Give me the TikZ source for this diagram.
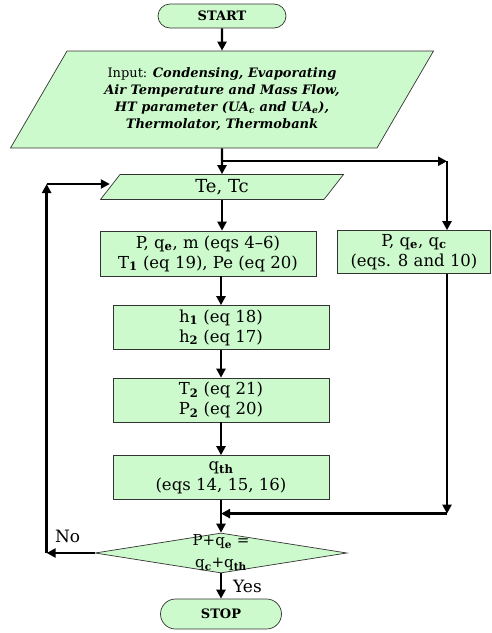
\documentclass[tikz,border=0pt]{standalone}
\usepackage{fontspec}
\setmainfont{DejaVu Serif}
\usepackage{tikz}
\usetikzlibrary{shapes.geometric,shapes.misc}
\usetikzlibrary{arrows.meta}
\usetikzlibrary{calc}
\definecolor{boxgreen}{RGB}{204,250,204}

\begin{document}
\begin{tikzpicture}[>={Triangle[length=9pt,width=9pt]},x=1pt,y=1pt,line width=2.4pt]
 \tikzstyle{term node}=[rounded rectangle,draw=black!80,fill=boxgreen,line width=0.7pt,minimum width=130pt,minimum height=24pt,inner sep=1pt,font=\bfseries\fontsize{13}{15}\selectfont]
 \tikzstyle{io node}=[trapezium,trapezium left angle=49,trapezium right angle=131,trapezium stretches body,draw=black!80,fill=boxgreen,line width=0.7pt,inner sep=1pt,align=center]
 \tikzstyle{proc node}=[rectangle,draw=black!80,fill=boxgreen,line width=0.7pt,minimum width=216pt,minimum height=44pt,inner sep=1pt,align=center,font=\fontsize{16.5}{20}\selectfont]
 \tikzstyle{check node}=[diamond,draw=black!80,fill=boxgreen,line width=0.7pt,minimum width=252pt,minimum height=40pt,inner sep=0pt]
 \tikzset{
 	side node/.style={proc node,minimum width=153pt,minimum height=43pt},
 	answer/.style={font=\fontsize{17}{19}\selectfont,inner sep=1pt}
 }

 \useasboundingbox (0,0) rectangle (491,-633);

       \node[term node] (start) at (222,-16) {START};
       \node[io node,minimum width=423pt,minimum height=97pt,font=\fontsize{13}{17}\selectfont] (in) [below of=start,node distance=83.5pt]
            {Input: \textbf{\textit{Condensing, Evaporating}}\\
             \textbf{\textit{Air Temperature and Mass Flow,}}\\
             \textbf{\textit{HT parameter (UA\textsubscript{c} and UA\textsubscript{e}),}}\\
             \textbf{\textit{Thermolator, Thermobank}}};
       \node[io node,trapezium left angle=42,trapezium right angle=138,minimum width=243pt,minimum height=25pt,font=\fontsize{18}{20}\selectfont] (tetc) [below of=in,node distance=87.5pt] {Te, Tc};
       \node[proc node,minimum height=45pt] (p1) [below of=tetc,node distance=66.5pt,xshift=-14pt]
            {P, q\textsubscript{\textbf{e}}, m (eqs 4--6)\\ T\textsubscript{\textbf{1}} (eq 19), Pe (eq 20)};
       \node[side node] (qbox) [right of=p1,node distance=206pt,yshift=1.5pt]
            {P, q\textsubscript{\textbf{e}}, q\textsubscript{\textbf{c}}\\ (eqs. 8 and 10)};
       \node[proc node] (p2) [below of=p1,node distance=74pt,xshift=13pt]
            {h\textsubscript{\textbf{1}} (eq 18)\\ h\textsubscript{\textbf{2}} (eq 17)};
       \node[proc node] (p3) [below of=p2,node distance=72.5pt]
            {T\textsubscript{\textbf{2}} (eq 21)\\ P\textsubscript{\textbf{2}} (eq 20)};
       \node[proc node] (p4) [below of=p3,node distance=77.5pt]
            {q\textsubscript{\textbf{th}}\\ (eqs 14, 15, 16)};
       \node[check node,label={[answer,align=center,font=\fontsize{15}{22}\selectfont]center:P+q\textsubscript{\textbf{e}} =\\ q\textsubscript{\textbf{c}}+q\textsubscript{\textbf{th}}}] (chk) [below of=p4,node distance=75.5pt] {};
       \node[term node,minimum width=123pt,minimum height=30pt] (stop) [below of=chk,node distance=61pt] {STOP};

       % turning points of the connectors
       \coordinate (split) at ($(in.south)!0.5!(tetc.north)$);
       \coordinate (rturn) at ($(split)+(225,0)$);
       \coordinate (merge) at ($(p4.south)!0.42!(chk.north)$);
       \coordinate (rdown) at (rturn |- merge);
       \coordinate (nturn) at ($(chk.west)+(-48,0)$);
       \coordinate (nup) at ($(nturn |- tetc)+(0,3)$);

     \path[->]  (start) edge (in);
     \path[->]  (in) edge (tetc);
     \draw[->]  (split) -- (rturn);
     \draw[->]  (rturn) -- (rturn |- qbox.north);
     \draw[->]  (rturn |- qbox.south) -- (rdown);
     \draw[->]  (rdown) -- (merge);

     \draw[->]  (tetc.south) -- (tetc.south |- p1.north);
     \draw[->]  (p2.north |- p1.south) -- (p2.north);
     \path[->]  (p2) edge (p3);
     \path[->]  (p3) edge (p4);
     \path[->]  (p4) edge (chk);
     \path[->]  (chk) edge node[answer,right=10pt] {Yes} (stop);

     \draw[->]  (chk.west) -- node[answer,above=8pt,xshift=-3pt] {No} (nturn);
     \draw[->]  (nturn) -- (nup);
     \draw[->]  (nup) -- (nup -| tetc.west);
 \end{tikzpicture}
\end{document}
